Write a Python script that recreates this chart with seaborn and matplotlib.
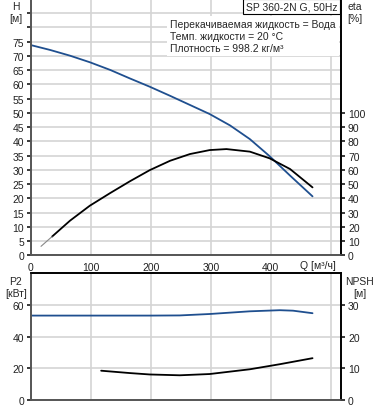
import numpy as np
import pandas as pd
import seaborn as sns
import matplotlib.pyplot as plt

sns.set_theme(style="white")
plt.rcParams['font.family'] = ['Liberation Sans', 'DejaVu Sans']
plt.rcParams['font.size'] = 7.5

# H curve (m)
q_h = [0, 32, 65, 98, 132, 165, 198, 232, 265, 298, 332, 365, 398, 432, 469.5]
h = [73.8, 72.1, 70.1, 67.8, 65.1, 62.1, 59.2, 56.0, 52.8, 49.6, 45.6, 40.8,
     34.8, 28.0, 20.7]
# efficiency curve (%)
q_eta = [16.7, 35, 65, 98, 132, 165, 198, 232, 265, 298, 326, 365, 398, 432,
         469.5]
eta = [6.3, 13.1, 24.3, 34.8, 43.7, 52.0, 59.8, 66.4, 71.1, 73.9, 74.6, 72.8,
       68.1, 60.6, 47.7]
# P2 (kW)
q_p2 = [0, 100, 200, 248, 298, 365, 415, 437, 469.5]
p2 = [53.3, 53.3, 53.3, 53.4, 54.3, 56.0, 56.7, 56.4, 54.8]
# NPSH (m)
q_npsh = [117, 165, 198, 248, 298, 365, 415, 469.5]
npsh = [9.25, 8.5, 8.06, 7.8, 8.2, 9.7, 11.3, 13.2]

info = ["Перекачиваемая жидкость = Вода",
        "Темп. жидкости = 20 °C",
        "Плотность = 998.2 кг/м³"]
title = "SP 360-2N G, 50Hz"

blue = "#1f4f8f"
grid = "#d4d4d4"
W, H = 378, 410

fig = plt.figure(figsize=(W / 100, H / 100), dpi=100)
ax = fig.add_axes([31 / W, 1 - 256.3 / H, 310 / W, 256.3 / H])
ax2 = ax.twinx()
bx = fig.add_axes([31 / W, 9 / H, 310 / W, (401 - 274.3) / H])
bx2 = bx.twinx()

xmax = 517
for a in (ax, bx):
    a.set_xlim(0, xmax)
    a.set_xticks([0, 100, 200, 300, 400, 500])
    a.grid(True, color=grid, lw=1.2)
    a.set_axisbelow(True)
    a.tick_params(length=3, pad=2, labelsize=7.5, colors="#222222")

# top chart
ax.set_ylim(0, 90)
ax.set_yticks(np.arange(0, 90, 5))
ax.set_yticklabels([str(v) if v <= 75 else "" for v in range(0, 90, 5)])
ax.set_xticklabels(["0", "100", "200", "300", "400", ""])
ax2.set_ylim(0, 180)
ax2.set_yticks(np.arange(0, 110, 10))
ax2.tick_params(length=3, pad=2, labelsize=7.5, colors="#222222")

sns.lineplot(x=q_h, y=h, ax=ax, color=blue, lw=1.3)
sns.lineplot(x=q_eta[1:], y=eta[1:], ax=ax2, color="black", lw=1.3)
sns.lineplot(x=q_eta[:2], y=eta[:2], ax=ax2, color="#888888", lw=0.8)

fig.text(170.5 / W, 1 - 20.5 / H, "\n".join(info), fontsize=7.5, va="top",
         ha="left", bbox=dict(facecolor="white", edgecolor="none", pad=2.5))
fig.text(337 / W, 1 - 2 / H, title, fontsize=7.5, va="top", ha="right",
         bbox=dict(facecolor="white", edgecolor="black", lw=0.8, pad=1.8))
ax.text(478, -1.8, "Q [м³/ч]", fontsize=7.5, va="top", ha="center",
        color="#222222")

# bottom chart
bx.set_ylim(0, 80)
bx.set_yticks([0, 20, 40, 60])
bx.set_xticklabels([])
bx.tick_params(axis="x", length=0)
bx2.set_ylim(0, 40)
bx2.set_yticks([0, 10, 20, 30])
bx2.tick_params(length=3, pad=2, labelsize=7.5, colors="#222222")

sns.lineplot(x=q_p2, y=p2, ax=bx, color=blue, lw=1.3)
sns.lineplot(x=q_npsh, y=npsh, ax=bx2, color="black", lw=1.3)

for a in (ax, ax2):
    a.spines["top"].set_visible(False)
for a in (ax, ax2, bx, bx2):
    a.spines["left"].set_color("#555555")
    a.spines["bottom"].set_color("#555555")
    a.spines["right"].set_color("black")
    a.spines["top"].set_color("black")
    for s in a.spines.values():
        s.set_linewidth(1.2)

fig.text(16 / W, 1 - 7 / H, "H", ha="center", va="center", fontsize=7.5)
fig.text(16 / W, 1 - 19 / H, "[м]", ha="center", va="center", fontsize=7.5)
fig.text(355 / W, 1 - 7 / H, "eta", ha="center", va="center", fontsize=7.5)
fig.text(355 / W, 1 - 19 / H, "[%]", ha="center", va="center", fontsize=7.5)
fig.text(16 / W, 1 - 282 / H, "P2", ha="center", va="center", fontsize=7.5)
fig.text(16 / W, 1 - 294 / H, "[кВт]", ha="center", va="center", fontsize=7.5)
fig.text(360 / W, 1 - 282 / H, "NPSH", ha="center", va="center", fontsize=7.5)
fig.text(360 / W, 1 - 294 / H, "[м]", ha="center", va="center", fontsize=7.5)

fig.savefig("out.png", dpi=100)
